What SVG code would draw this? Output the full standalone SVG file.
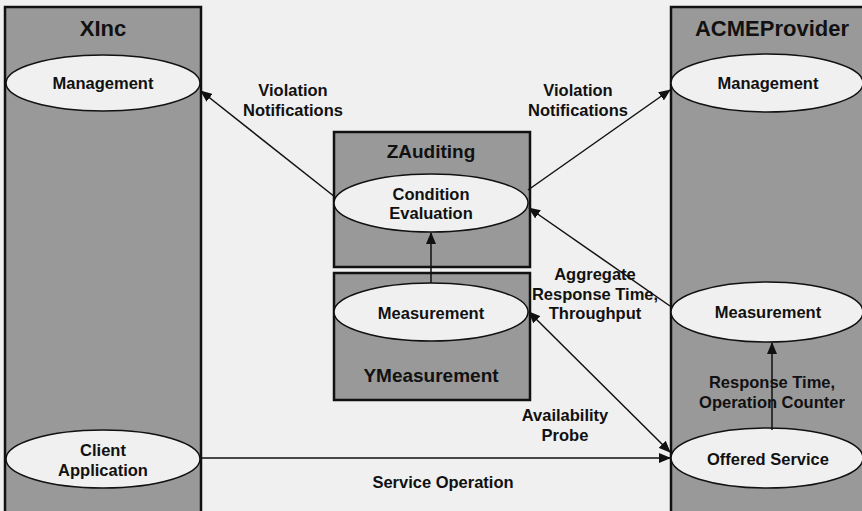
<svg xmlns="http://www.w3.org/2000/svg" width="862" height="511" viewBox="0 0 862 511">
<defs>
<marker id="ah" viewBox="0 0 12 10" refX="11" refY="5" markerWidth="12" markerHeight="10" markerUnits="userSpaceOnUse" orient="auto-start-reverse">
<path d="M0,0 L12,5 L0,10 Z" fill="#111"/>
</marker>
<style>
.box{fill:#999;stroke:#111;stroke-width:2.5}
.ell{fill:#f0f0f0;stroke:#111;stroke-width:1.5}
.t{font-family:"Liberation Sans",Arial,sans-serif;font-weight:bold;fill:#111;text-anchor:middle;dominant-baseline:central}
.lbl{font-size:16.5px}
.title{font-size:22px}
.sub{font-size:19px}
.c{stroke:#111;stroke-width:1.5;fill:none;marker-end:url(#ah)}
</style>
</defs>
<rect x="0" y="0" width="862" height="511" fill="#f0f0f0"/>

<g id="xinc">
<rect class="box" x="5" y="7" width="196" height="515"/>
<text class="t title" x="103" y="28">XInc</text>
</g>
<g id="acme">
<rect class="box" x="671" y="7" width="200" height="515"/>
<text class="t title" x="772" y="28">ACMEProvider</text>
</g>
<g id="zauditing">
<rect class="box" x="334" y="132" width="196" height="135"/>
<text class="t sub" x="431" y="151">ZAuditing</text>
</g>
<g id="ymeasurement">
<rect class="box" x="334" y="273" width="196" height="127"/>
<text class="t sub" x="431" y="375">YMeasurement</text>
</g>

<g id="xinc-management">
<ellipse class="ell" cx="103" cy="83" rx="97" ry="28"/>
<text class="t lbl" x="103" y="83">Management</text>
</g>
<g id="client-application">
<ellipse class="ell" cx="103" cy="459" rx="97" ry="29"/>
<text class="t lbl" x="103" y="450">Client</text>
<text class="t lbl" x="103" y="470">Application</text>
</g>
<g id="acme-management">
<ellipse class="ell" cx="767" cy="83" rx="96" ry="29"/>
<text class="t lbl" x="768" y="83">Management</text>
</g>
<g id="acme-measurement">
<ellipse class="ell" cx="767" cy="312" rx="96" ry="30"/>
<text class="t lbl" x="768" y="312">Measurement</text>
</g>
<g id="offered-service">
<ellipse class="ell" cx="767" cy="458" rx="96" ry="30"/>
<text class="t lbl" x="768" y="459">Offered Service</text>
</g>
<g id="condition-evaluation">
<ellipse class="ell" cx="431" cy="203" rx="97" ry="29"/>
<text class="t lbl" x="431" y="194">Condition</text>
<text class="t lbl" x="431" y="213">Evaluation</text>
</g>
<g id="y-measurement">
<ellipse class="ell" cx="431" cy="312" rx="97" ry="29"/>
<text class="t lbl" x="431" y="313">Measurement</text>
</g>

<g id="connectors">
<line class="c" x1="335" y1="197" x2="201" y2="91"/>
<line class="c" x1="528" y1="190" x2="670" y2="90"/>
<line class="c" x1="431" y1="283" x2="431" y2="233"/>
<line class="c" x1="670" y1="306" x2="529" y2="208"/>
<line class="c" x1="529" y1="312" x2="670" y2="452" style="marker-start:url(#ah)"/>
<line class="c" x1="201" y1="458" x2="670" y2="458"/>
<line class="c" x1="772" y1="430" x2="772" y2="343"/>
</g>

<g id="labels">
<text class="t lbl" x="293" y="90">Violation</text>
<text class="t lbl" x="293" y="110">Notifications</text>
<text class="t lbl" x="578" y="90">Violation</text>
<text class="t lbl" x="578" y="110">Notifications</text>
<text class="t lbl" x="595" y="274">Aggregate</text>
<text class="t lbl" x="595" y="294">Response Time,</text>
<text class="t lbl" x="595" y="313">Throughput</text>
<text class="t lbl" x="565" y="415">Availability</text>
<text class="t lbl" x="565" y="435">Probe</text>
<text class="t lbl" x="443" y="482">Service Operation</text>
<text class="t lbl" x="772" y="382">Response Time,</text>
<text class="t lbl" x="772" y="402">Operation Counter</text>
</g>
</svg>
